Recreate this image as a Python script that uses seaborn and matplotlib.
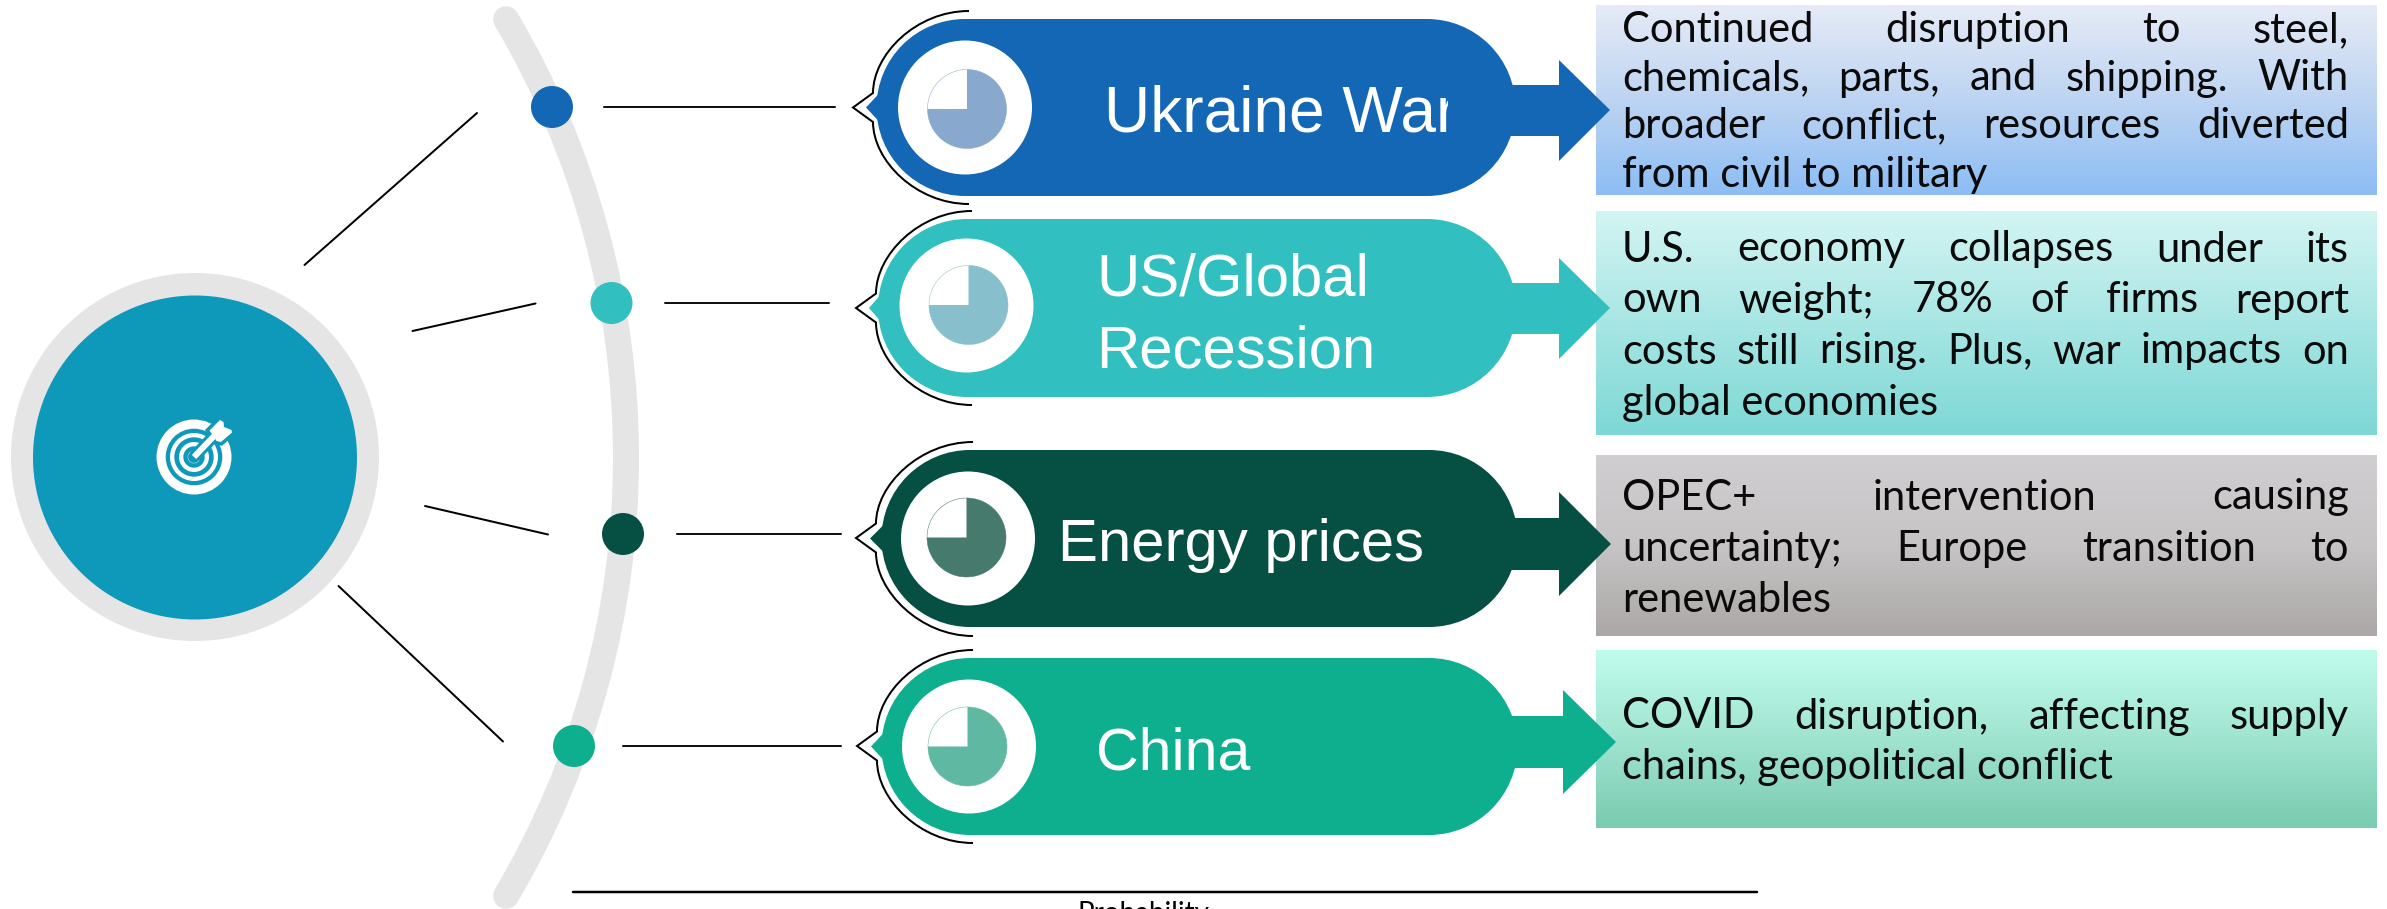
import matplotlib
matplotlib.use('Agg')
import matplotlib.pyplot as plt
import seaborn as sns
import numpy as np
import pandas as pd
from matplotlib.colors import LinearSegmentedColormap
from matplotlib.patches import Arc, Circle, Polygon, Rectangle, PathPatch
from matplotlib.path import Path

# Labels and text of the four risks
risks = ['Ukraine War', 'US/Global\nRecession', 'Energy prices', 'China']
risk_lines = [
    ['Continued disruption to steel,', 'chemicals, parts, and shipping. With',
     'broader conflict, resources diverted', 'from civil to military'],
    ['U.S. economy collapses under its', 'own weight; 78% of firms report',
     'costs still rising. Plus, war impacts on', 'global economies'],
    ['OPEC+ intervention causing', 'uncertainty; Europe transition to', 'renewables'],
    ['COVID disruption, affecting supply', 'chains, geopolitical conflict'],
]
justified_lines = [3, 3, 2, 1]
line_baselines = [[42, 90.5, 138.5, 186.5], [261.5, 312.5, 363.5, 414.5],
                  [509.5, 561, 612.5], [728.5, 779.5]]

# Colours
risk_colors = ['#1467B5', '#31BFBF', '#064F43', '#0EAF8E']
pie_colors = ['#88A8CD', '#88BFCD', '#467A6D', '#5FB8A2']
box_gradients = [['#E6EBF7', '#BDD4F2', '#8CBDF5'], ['#D3F5F3', '#A8E6E4', '#7DD8D6'],
                 ['#D0CED0', '#C6C4C5', '#ABA7A6'], ['#C0FCEC', '#A0E4D0', '#7ACBB0']]
arc_gray = '#E5E5E5'
hub_color = '#0E98BA'

# Pie of each pill: white quarter, coloured rest
pie_shares = [25, 75]

# Geometry, in pixels
pill_top = [19, 219, 450, 658]
pill_bottom = [196, 397, 627, 835]
pill_left = [965, 967, 970, 970]
pill_right = [1427, 1427, 1429, 1429]
notch_tip = [866, 869, 870, 871]
disc_x = [965, 966.5, 968, 969]
disc_y = [107.5, 305.5, 538.5, 746.5]
pie_x = [967, 968.5, 966.5, 967.5]
pie_y = [109, 305, 537.5, 746.5]
shaft_top = [85, 283, 518, 716]
shaft_bottom = [136, 334, 570, 768]
head_top = [60, 258, 492, 690]
head_bottom = [161, 359, 596, 794]
head_x = [1559, 1559, 1559, 1563]
tip_x = [1610, 1610, 1611, 1616]
tip_y = [110, 308, 544, 742]
bracket_top = [11, 211, 442, 650]
bracket_bottom = [204, 405, 636, 843]
bracket_right = [969, 972, 973, 973]
bracket_tip = [853, 856, 856, 857]
bracket_mid = [107.5, 308, 538, 746]
label_x = [1104, 1096, 1058, 1096]
label_baseline = [[132], [295, 367], [561], [769]]
label_px = [64, 60, 60, 59]
box_top = [5, 211, 455, 650]
box_bottom = [195, 435, 636, 828]
dot_x = [552, 611.5, 623, 574]
dot_y = [107, 303, 534, 746]
right_line_start = [604, 665, 677, 623]
right_line_end = [835, 829, 841, 841]
left_lines = [[(304.5, 265), (477, 113)], [(412.5, 331), (535.5, 303.5)],
              [(425, 506), (548, 534.5)], [(338.5, 586), (503, 741.5)]]

sns.set_theme(style='white')
plt.rcParams['font.family'] = ['Lato', 'DejaVu Sans']

fig = plt.figure(figsize=(23.87, 9.09), dpi=100)
ax = fig.add_axes([0, 0, 1, 1])
ax.set_xlim(0, 2387)
ax.set_ylim(909, 0)

PX = 0.72  # one pixel in points at dpi 100

# Big grey arc
ax.add_patch(Arc((-235, 457.5), 1722, 1722, theta1=-30.6, theta2=30.6, color=arc_gray,
                 lw=26 * PX, capstyle='round', zorder=1))

# Hub with target icon
ax.add_patch(Circle((195, 457), 184, color=arc_gray, lw=0, zorder=1))
ax.add_patch(Circle((195, 457.5), 162, color=hub_color, lw=0, zorder=2))
ring_radii = [37.5, 28.3, 24, 19.7, 15, 10.7, 6.3]
for i, r in enumerate(ring_radii):
    ax.add_patch(Circle((194, 457), r, color='white' if i % 2 == 0 else hub_color, lw=0, zorder=3))
fletch = [(209.5, 430.5), (220, 420), (223.5, 422), (224, 427), (231.5, 430), (232, 432.5),
          (221, 442), (216.5, 441), (213.5, 436)]
ax.add_patch(Polygon(fletch, closed=True, color=hub_color, lw=7 * PX, zorder=4))
ax.plot([194, 214], [457, 436], color=hub_color, lw=12 * PX, zorder=4)
ax.add_patch(Polygon(fletch, closed=True, color='white', lw=0, zorder=5))
ax.plot([194, 215], [457, 435], color='white', lw=6 * PX, zorder=5, solid_capstyle='butt')

# Connector lines
for seg in left_lines:
    ax.plot([seg[0][0], seg[1][0]], [seg[0][1], seg[1][1]], color='black', lw=2 * PX, zorder=2)
for i in range(4):
    ax.plot([right_line_start[i], right_line_end[i]], [dot_y[i], dot_y[i]], color='#111111',
            lw=2 * PX, zorder=2)

# Dots on the arc
dots = pd.DataFrame({'x': dot_x, 'y': dot_y, 'risk': risks})
sns.scatterplot(data=dots, x='x', y='y', hue='risk', palette=risk_colors, s=(42 * PX) ** 2,
                linewidth=0, legend=False, ax=ax, zorder=3)

renderer = fig.canvas.get_renderer()
TEXT_LEFT, TEXT_RIGHT, BODY_PT = 1622, 2349, 30


def body_line(text, y, justify):
    if not justify:
        ax.text(TEXT_LEFT, y, text, fontsize=BODY_PT, va='baseline', color='#0A0A0A', zorder=6)
        return
    words = text.split(' ')
    parts = [ax.text(0, y, w, fontsize=BODY_PT, va='baseline', color='#0A0A0A', zorder=6) for w in words]
    widths = [p.get_window_extent(renderer).width for p in parts]
    gap = (TEXT_RIGHT - TEXT_LEFT - sum(widths)) / (len(words) - 1)
    x = TEXT_LEFT
    for p, w in zip(parts, widths):
        p.set_x(x)
        x += w + gap


for i in range(4):
    c = risk_colors[i]
    r = (pill_bottom[i] - pill_top[i]) / 2
    cy = (pill_bottom[i] + pill_top[i]) / 2

    # Gradient box behind the arrow
    cmap = LinearSegmentedColormap.from_list('box%d' % i, box_gradients[i])
    ax.imshow(np.linspace(0, 1, 256).reshape(-1, 1), cmap=cmap, aspect='auto', zorder=1,
              extent=(1596, 2377, box_bottom[i], box_top[i]))

    # Pill with notch and arrow
    ax.add_patch(Rectangle((pill_left[i], pill_top[i]), pill_right[i] - pill_left[i], 2 * r,
                           color=c, lw=0, zorder=2))
    ax.add_patch(Circle((pill_left[i], cy), r, color=c, lw=0, zorder=2))
    ax.add_patch(Circle((pill_right[i], cy), r, color=c, lw=0, zorder=2))
    ax.add_patch(Polygon([(notch_tip[i], cy), (pill_left[i] - 85, cy - 15), (pill_left[i] - 85, cy + 15)],
                         color=c, lw=0, zorder=2))
    ax.add_patch(Polygon([(pill_right[i], shaft_top[i]), (head_x[i], shaft_top[i]), (head_x[i], head_top[i]),
                          (tip_x[i], tip_y[i]), (head_x[i], head_bottom[i]), (head_x[i], shaft_bottom[i]),
                          (pill_right[i], shaft_bottom[i])], color=c, lw=0, zorder=2))

    # Black bracket round the left end
    xr, xs, yt, yb, ym = bracket_right[i], bracket_tip[i] + 20, bracket_top[i], bracket_bottom[i], bracket_mid[i]
    verts = [(xr, yt), (xr - 53, yt), (xs, ym - 53), (xs, ym - 14.5), (bracket_tip[i], ym), (xs, ym + 14.5),
             (xs, ym + 53), (xr - 53, yb), (xr, yb)]
    codes = [Path.MOVETO, Path.CURVE4, Path.CURVE4, Path.CURVE4, Path.LINETO, Path.LINETO,
             Path.CURVE4, Path.CURVE4, Path.CURVE4]
    ax.add_patch(PathPatch(Path(verts, codes), fc='none', ec='black', lw=2 * PX, zorder=2))

    # White disc and pie
    ax.add_patch(Circle((disc_x[i], disc_y[i]), 67, color='white', lw=0, zorder=3))
    wedges, _ = ax.pie(pie_shares, colors=['white', pie_colors[i]], startangle=180, frame=True,
                       center=(pie_x[i], pie_y[i]), radius=39.5, wedgeprops={'linewidth': 0})
    for w in wedges:
        w.set_zorder(4)
    ax.add_patch(Circle((pie_x[i], pie_y[i]), 39.5, fc='none', ec=pie_colors[i], lw=0.5 * PX, zorder=4))

    # Pill label
    for name, base in zip(risks[i].split('\n'), label_baseline[i]):
        t = ax.text(label_x[i], base, name, color='white', fontsize=label_px[i] * PX, va='baseline',
                    family='Liberation Sans', zorder=5, clip_on=True)
        if name == 'Ukraine War':
            t.set_clip_path(Rectangle((1100, 60), 348, 100, transform=ax.transData))

    # Description, justified like the slide
    for j, line in enumerate(risk_lines[i]):
        body_line(line, line_baselines[i][j], j < justified_lines[i])

# Axis rule and its label, cut off by the bottom of the slide
ax.plot([573, 1757], [892, 892], color='black', lw=2.5 * PX, zorder=2)
ax.text(1143, 922, 'Probability', fontsize=20, ha='center', va='baseline', color='black', clip_on=False)

ax.set_xlim(0, 2387)
ax.set_ylim(909, 0)
ax.set_aspect('auto')
ax.axis('off')
fig.savefig('out.png', dpi=100, facecolor='white')
